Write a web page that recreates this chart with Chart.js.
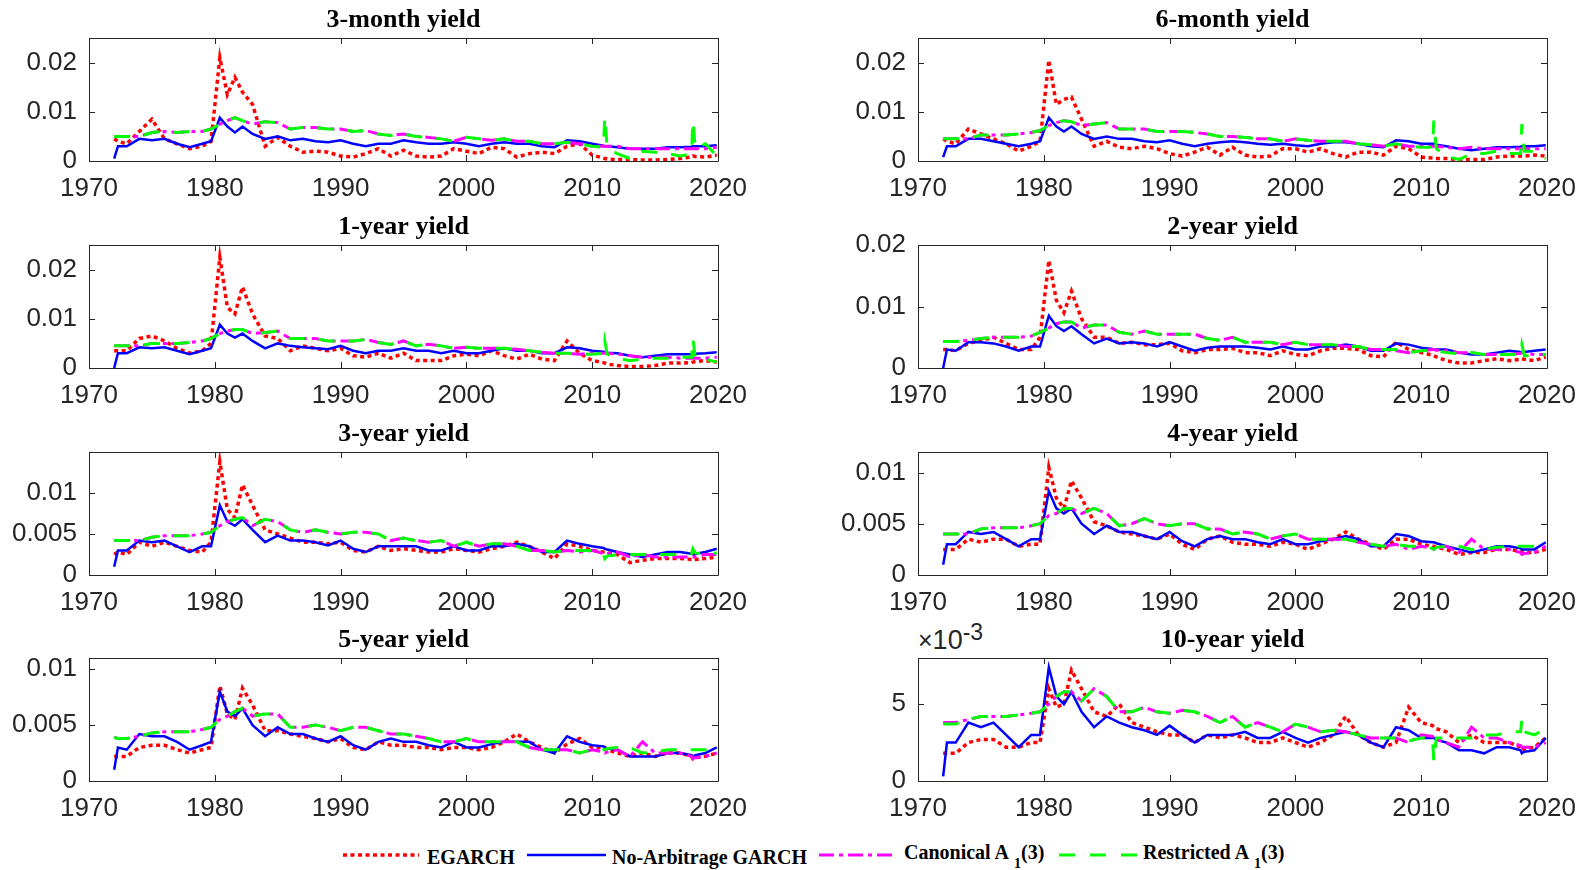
<!DOCTYPE html>
<html>
<head>
<meta charset="utf-8">
<script src="https://cdn.jsdelivr.net/npm/chart.js@4.4.1/dist/chart.umd.min.js"></script>
<style>
  body { margin: 0; background: #fff; }
  #page { position: relative; width: 1585px; height: 870px; overflow: hidden; background: #fff; }
  #page canvas { position: absolute; }
  .sw { position: absolute; top: 850px; height: 10px; }
  .lg { position: absolute; font: bold 20px "Liberation Serif", "Times New Roman", serif; line-height: 20px; color: #000; white-space: nowrap; }
  .lg .sb { font-size: 14px; position: relative; top: 9px; margin-left: 5px; }
  #exp { position: absolute; left: 918px; top: 627px; font: 27px "Liberation Sans", Arial, sans-serif; line-height: 26px; color: #262626; }
  #exp .x { font-size: 25px; }
  #exp .sp { font-size: 23px; position: relative; top: -9px; }
</style>
</head>
<body>
<div id="page">
  <svg class="sw" style="left:343px" width="76" height="10"><line x1="0" y1="5" x2="76" y2="5" stroke="#ff0000" stroke-width="3.5" stroke-dasharray="4 3.5"/></svg>
  <div class="lg" style="left:427px; top:847px">EGARCH</div>
  <svg class="sw" style="left:527px" width="79" height="10"><line x1="0" y1="5" x2="79" y2="5" stroke="#0000ff" stroke-width="2.5"/></svg>
  <div class="lg" style="left:612px; top:847px">No-Arbitrage GARCH</div>
  <svg class="sw" style="left:819px" width="78" height="10"><line x1="0" y1="5" x2="78" y2="5" stroke="#ff00ff" stroke-width="3" stroke-dasharray="15 5 4 5"/></svg>
  <div class="lg" style="left:904px; top:842px">Canonical A<span class="sb">1</span>(3)</div>
  <svg class="sw" style="left:1059px" width="78" height="10"><line x1="0" y1="5" x2="78" y2="5" stroke="#00ff00" stroke-width="3" stroke-dasharray="16 15"/></svg>
  <div class="lg" style="left:1143px; top:842px">Restricted A<span class="sb">1</span>(3)</div>
  <div id="exp"><span class="x">×</span>10<span class="sp">-3</span></div>
</div>
<script>
// x positions (decimal years) shared by every series
const YEARS = [1972, 1972.3, 1973, 1974, 1975, 1976, 1977, 1978, 1979, 1979.7,
  1980.4, 1981, 1981.6, 1982.2, 1983, 1984, 1985, 1986, 1987, 1988,
  1989, 1990, 1991, 1992, 1993, 1994, 1995, 1996, 1997, 1998,
  1999, 2000, 2001, 2002, 2003, 2004, 2005, 2006, 2007, 2008,
  2009, 2010, 2010.9, 2011, 2011.2, 2012, 2013, 2014, 2015, 2016,
  2017, 2017.9, 2018, 2018.2, 2019, 2019.9];

// all series values are in units of 1e-4
const SCALE = 1e-4;

const EGARCH_3M = [45, 40, 35, 60, 85, 45, 35, 25, 30, 40, 210, 135, 170, 140, 115, 30, 48, 30, 18, 20, 18, 10, 8, 15, 25, 10, 22, 10, 8, 10, 25, 20, 15, 28, 25, 8, 15, 18, 15, 30, 35,
  12, 6, 5, 4, 3, 3, 2, 2, 3, 5, 8, 10, 9, 8, 12];
const NAGARCH_3M = [5, 30, 30, 45, 42, 45, 35, 28, 35, 40, 88, 70, 58, 70, 55, 45, 50, 42, 45, 40, 38, 42, 35, 30, 35, 35, 42, 38, 35, 35, 38, 35, 30, 35, 38, 35, 35, 30, 28, 42, 40,
  35, 31, 30, 30, 28, 25, 25, 25, 28, 28, 29, 30, 30, 30, 32];
const CANON_3M = [50, 50, 50, 50, 58, 60, 58, 60, 60, 65, 75, 82, 88, 82, 75, 80, 78, 65, 68, 68, 65, 65, 60, 62, 55, 52, 55, 50, 48, 45, 40, 48, 45, 42, 45, 40, 40, 35, 35, 38, 35,
  30, 30, 30, 30, 30, 25, 25, 25, 25, 25, 25, 25, 25, 25, 28];
const RESTR_3M = [50, 50, 50, 50, 58, 60, 58, 60, 60, 65, 75, 82, 88, 82, 75, 80, 78, 65, 68, 68, 65, 65, 60, 62, 55, 52, 55, 50, 48, 45, 40, 48, 45, 42, 45, 40, 40, 35, 35, 38, 35,
  30, 28, 90, 25, 15, 5, 20, 18, 15, 10, 15, 82, 25, 35, 10];

const EGARCH_6M = [45, 40, 35, 65, 55, 45, 35, 20, 30, 40, 205, 115, 125, 130, 85, 30, 40, 28, 25, 30, 25, 15, 10, 18, 28, 12, 28, 12, 8, 10, 25, 25, 18, 25, 15, 8, 18, 18, 12, 30, 25,
  8, 6, 5, 5, 5, 3, 3, 3, 8, 10, 10, 10, 10, 12, 10];
const NAGARCH_6M = [8, 30, 30, 45, 45, 40, 35, 30, 35, 40, 88, 70, 60, 70, 55, 45, 50, 45, 45, 40, 38, 42, 35, 30, 35, 38, 40, 38, 35, 33, 35, 32, 30, 35, 38, 38, 35, 30, 28, 42, 40,
  35, 35, 35, 33, 30, 25, 22, 25, 28, 28, 29, 30, 30, 30, 32];
const CANON_6M = [45, 45, 45, 45, 53, 53, 53, 55, 58, 62, 72, 78, 82, 80, 72, 75, 78, 65, 65, 65, 60, 60, 60, 58, 55, 50, 50, 48, 45, 45, 40, 45, 42, 40, 40, 40, 35, 33, 30, 35, 30,
  30, 30, 30, 30, 28, 25, 28, 25, 25, 25, 25, 25, 25, 25, 25];
const RESTR_6M = [45, 45, 45, 45, 53, 53, 53, 55, 58, 62, 72, 78, 82, 80, 72, 75, 78, 65, 65, 65, 60, 60, 60, 58, 55, 50, 50, 48, 45, 45, 40, 45, 42, 40, 40, 40, 35, 33, 30, 35, 30,
  28, 28, 82, 25, 10, 3, 15, 15, 20, 15, 15, 75, 20, 20, 5];

const EGARCH_1Y = [35, 35, 35, 60, 65, 55, 40, 30, 35, 50, 225, 123, 110, 165, 110, 65, 60, 35, 45, 40, 35, 40, 25, 22, 30, 20, 30, 15, 15, 15, 25, 28, 25, 35, 25, 18, 28, 18, 15, 55, 30,
  15, 11, 10, 8, 5, 3, 3, 5, 10, 10, 11, 12, 13, 15, 12];
const NAGARCH_1Y = [0, 30, 30, 42, 40, 42, 35, 28, 35, 40, 88, 70, 62, 70, 55, 40, 50, 45, 42, 40, 38, 45, 35, 30, 35, 35, 40, 35, 35, 30, 35, 30, 30, 35, 40, 35, 35, 30, 30, 42, 40,
  35, 33, 32, 31, 30, 25, 22, 25, 28, 28, 28, 28, 29, 30, 32];
const CANON_1Y = [45, 45, 45, 45, 50, 50, 50, 52, 55, 60, 70, 75, 78, 78, 70, 72, 75, 60, 60, 60, 55, 55, 55, 58, 52, 48, 55, 45, 48, 45, 40, 42, 40, 40, 40, 38, 35, 32, 30, 30, 28,
  30, 30, 30, 30, 28, 25, 22, 22, 22, 20, 20, 20, 20, 20, 22];
const RESTR_1Y = [45, 45, 45, 45, 50, 50, 50, 52, 55, 60, 70, 75, 78, 78, 70, 72, 75, 60, 60, 60, 55, 55, 55, 58, 52, 48, 55, 45, 48, 45, 40, 42, 40, 40, 40, 38, 35, 32, 30, 30, 28,
  28, 30, 55, 28, 20, 15, 18, 20, 20, 22, 22, 60, 20, 18, 12];

const EGARCH_2Y = [30, 30, 28, 40, 45, 50, 40, 30, 30, 50, 175, 110, 90, 125, 80, 50, 50, 40, 42, 38, 38, 40, 28, 25, 30, 30, 32, 25, 25, 20, 28, 22, 20, 28, 32, 32, 30, 20, 18, 42, 30,
  25, 21, 20, 18, 12, 8, 8, 12, 15, 12, 14, 15, 14, 12, 18];
const NAGARCH_2Y = [0, 30, 28, 42, 42, 40, 35, 28, 35, 35, 85, 68, 60, 68, 55, 40, 48, 40, 42, 40, 35, 42, 35, 28, 33, 35, 35, 35, 33, 30, 35, 30, 30, 35, 35, 38, 35, 28, 28, 40, 38,
  33, 31, 30, 30, 30, 25, 22, 22, 25, 28, 26, 25, 26, 28, 30];
const CANON_2Y = [43, 43, 43, 45, 48, 50, 50, 50, 52, 58, 65, 72, 75, 75, 65, 70, 70, 58, 55, 60, 55, 55, 55, 55, 48, 45, 50, 42, 42, 42, 38, 42, 38, 38, 38, 35, 35, 30, 30, 28, 25,
  28, 30, 30, 29, 28, 25, 25, 22, 22, 22, 24, 25, 24, 22, 22];
const RESTR_2Y = [43, 43, 43, 45, 48, 50, 50, 50, 52, 58, 65, 72, 75, 75, 65, 70, 70, 58, 55, 60, 55, 55, 55, 55, 48, 45, 50, 42, 42, 42, 38, 42, 38, 38, 38, 35, 35, 30, 30, 30, 25,
  28, 30, 30, 28, 25, 23, 25, 22, 22, 22, 22, 38, 20, 20, 22];

const EGARCH_3Y = [25, 28, 25, 40, 35, 40, 35, 30, 28, 40, 138, 80, 70, 110, 85, 55, 50, 45, 40, 40, 38, 40, 30, 28, 35, 30, 32, 30, 28, 28, 32, 30, 28, 32, 35, 40, 35, 28, 20, 38, 35,
  30, 28, 28, 27, 25, 15, 18, 20, 20, 20, 19, 18, 19, 20, 22];
const NAGARCH_3Y = [10, 30, 30, 42, 40, 42, 35, 28, 35, 35, 85, 65, 60, 68, 55, 40, 48, 42, 42, 40, 36, 42, 32, 28, 35, 35, 35, 35, 30, 30, 35, 30, 30, 35, 35, 38, 35, 28, 28, 42, 38,
  35, 33, 32, 31, 28, 25, 22, 25, 28, 28, 26, 25, 26, 28, 32];
const CANON_3Y = [42, 42, 42, 42, 46, 48, 48, 48, 50, 52, 60, 65, 68, 70, 60, 68, 65, 55, 52, 55, 52, 50, 52, 52, 50, 42, 45, 42, 40, 42, 35, 40, 35, 38, 38, 35, 30, 30, 28, 30, 28,
  30, 26, 25, 26, 28, 22, 25, 22, 22, 22, 22, 22, 23, 25, 25];
const RESTR_3Y = [42, 42, 42, 42, 46, 48, 48, 48, 50, 52, 60, 65, 68, 70, 60, 68, 65, 55, 52, 55, 52, 50, 52, 52, 50, 42, 45, 42, 40, 42, 35, 40, 35, 38, 38, 35, 30, 30, 28, 30, 30,
  30, 25, 20, 23, 25, 25, 25, 25, 25, 25, 26, 32, 27, 25, 27];

const EGARCH_4Y = [25, 25, 25, 35, 32, 35, 35, 28, 30, 30, 105, 75, 65, 92, 75, 52, 48, 42, 40, 38, 35, 40, 30, 25, 35, 38, 32, 30, 30, 28, 32, 30, 25, 30, 35, 42, 35, 30, 25, 35, 35,
  30, 28, 28, 27, 25, 20, 22, 22, 25, 25, 23, 22, 22, 22, 25];
const NAGARCH_4Y = [10, 30, 30, 42, 40, 42, 35, 28, 35, 35, 82, 65, 60, 65, 50, 40, 48, 42, 42, 38, 35, 42, 33, 28, 35, 38, 35, 35, 32, 30, 35, 30, 30, 33, 35, 38, 35, 28, 28, 40, 38,
  33, 32, 32, 31, 28, 25, 22, 25, 28, 28, 26, 25, 25, 25, 32];
const CANON_4Y = [40, 40, 40, 40, 45, 46, 46, 46, 48, 50, 58, 60, 65, 65, 60, 65, 60, 48, 50, 55, 50, 48, 50, 50, 45, 45, 40, 42, 40, 35, 38, 40, 35, 35, 35, 35, 32, 30, 28, 30, 25,
  28, 26, 25, 26, 28, 22, 35, 25, 25, 25, 22, 20, 21, 22, 28];
const RESTR_4Y = [40, 40, 40, 40, 45, 46, 46, 46, 48, 50, 58, 60, 65, 65, 60, 65, 60, 48, 50, 55, 50, 48, 50, 50, 45, 45, 40, 42, 40, 35, 38, 40, 35, 35, 35, 35, 32, 30, 28, 30, 28,
  28, 26, 25, 27, 28, 28, 25, 25, 27, 28, 28, 28, 28, 28, 30];

const EGARCH_5Y = [22, 22, 22, 30, 32, 32, 28, 25, 28, 30, 85, 60, 55, 83, 68, 45, 45, 42, 40, 38, 35, 38, 30, 28, 35, 32, 32, 30, 30, 28, 30, 30, 28, 30, 35, 42, 35, 30, 25, 33, 38,
  30, 30, 30, 28, 25, 22, 25, 22, 25, 25, 22, 20, 21, 22, 25];
const NAGARCH_5Y = [10, 30, 28, 42, 40, 40, 35, 28, 32, 35, 80, 62, 58, 65, 50, 40, 48, 42, 42, 38, 35, 40, 32, 28, 35, 38, 35, 35, 32, 30, 35, 30, 30, 33, 35, 35, 35, 28, 25, 40, 35,
  32, 31, 30, 29, 28, 22, 22, 22, 25, 25, 23, 22, 23, 25, 30];
const CANON_5Y = [39, 38, 38, 40, 43, 44, 44, 44, 46, 48, 55, 58, 62, 65, 58, 60, 60, 48, 48, 50, 48, 45, 48, 48, 45, 42, 42, 40, 38, 35, 35, 38, 35, 35, 35, 35, 30, 28, 28, 28, 25,
  28, 26, 25, 26, 28, 22, 35, 25, 25, 25, 22, 20, 21, 22, 25];
const RESTR_5Y = [39, 38, 38, 40, 43, 44, 44, 44, 46, 48, 55, 58, 62, 65, 58, 60, 60, 48, 48, 50, 48, 45, 48, 48, 45, 42, 42, 40, 38, 35, 35, 38, 35, 35, 35, 35, 30, 28, 28, 28, 25,
  28, 28, 28, 29, 30, 30, 25, 26, 28, 28, 28, 28, 28, 28, 30];

const EGARCH_10Y = [18, 18, 18, 25, 27, 27, 22, 22, 25, 25, 60, 48, 50, 72, 60, 45, 42, 50, 38, 35, 32, 30, 30, 25, 30, 28, 30, 28, 25, 25, 28, 25, 22, 25, 30, 42, 30, 25, 22, 25, 48,
  38, 36, 35, 34, 32, 25, 30, 25, 25, 25, 22, 20, 21, 22, 28];
const NAGARCH_10Y = [3, 25, 25, 38, 35, 38, 30, 22, 30, 30, 74, 55, 50, 58, 45, 35, 42, 38, 35, 33, 30, 36, 30, 25, 30, 30, 30, 32, 28, 28, 32, 28, 25, 28, 30, 32, 30, 25, 22, 35, 33,
  28, 28, 28, 27, 25, 20, 20, 18, 22, 22, 20, 18, 19, 20, 28];
const CANON_10Y = [38, 38, 38, 40, 42, 42, 42, 43, 44, 45, 50, 55, 58, 58, 52, 60, 55, 45, 45, 48, 45, 44, 46, 45, 42, 38, 42, 35, 38, 35, 32, 37, 35, 32, 33, 32, 30, 28, 28, 28, 25,
  30, 29, 28, 27, 25, 22, 35, 28, 28, 25, 23, 22, 22, 22, 25];
const RESTR_10Y = [37, 37, 37, 40, 42, 42, 42, 43, 44, 45, 50, 55, 58, 58, 52, 60, 55, 45, 45, 48, 45, 44, 46, 45, 42, 38, 42, 35, 38, 35, 32, 37, 35, 32, 33, 32, 30, 28, 28, 28, 26,
  28, 28, 13, 28, 28, 28, 28, 30, 30, 32, 32, 40, 32, 30, 34];

const TITLES = ['3-month yield', '6-month yield', '1-year yield', '2-year yield',
  '3-year yield', '4-year yield', '5-year yield', '10-year yield'];
const Y_MAX = [0.025, 0.025, 0.025, 0.02, 0.015, 0.012, 0.011, 0.008];
const YT_A = [0, 0.01, 0.02];
const YT_B = [0, 0.005, 0.01];
const YT_C = [0, 0.005];
const Y_TICKS = [YT_A, YT_A, YT_A, YT_A, YT_B, YT_B, YT_B, YT_C];
const X_TICK_STEP = 10;

const EGARCH = [EGARCH_3M, EGARCH_6M, EGARCH_1Y, EGARCH_2Y, EGARCH_3Y, EGARCH_4Y, EGARCH_5Y, EGARCH_10Y];
const NAGARCH = [NAGARCH_3M, NAGARCH_6M, NAGARCH_1Y, NAGARCH_2Y, NAGARCH_3Y, NAGARCH_4Y, NAGARCH_5Y, NAGARCH_10Y];
const CANON = [CANON_3M, CANON_6M, CANON_1Y, CANON_2Y, CANON_3Y, CANON_4Y, CANON_5Y, CANON_10Y];
const RESTR = [RESTR_3M, RESTR_6M, RESTR_1Y, RESTR_2Y, RESTR_3Y, RESTR_4Y, RESTR_5Y, RESTR_10Y];

// layout of the 2 x 4 grid (px)
const COL_LEFT = [89, 918];
const ROW_TOP = [38, 245, 452, 658];
const PLOT_W = 629, PLOT_H = 123;
const Y_AXIS_W = 89, TITLE_H = 37, X_AXIS_H = 45, PAD_R = 34;

Chart.defaults.font.family = '"Liberation Sans", Arial, Helvetica, sans-serif';
Chart.defaults.font.size = 26;
Chart.defaults.color = '#262626';

const pts = vals => YEARS.map((x, k) => ({ x: x, y: vals[k] * SCALE }));

// box around the axes with inward tick marks on all four sides
const boxPlugin = {
  id: 'box',
  afterDatasetsDraw(chart) {
    const { ctx, chartArea: a, scales: { x, y } } = chart;
    const t = 6;
    ctx.save();
    ctx.strokeStyle = '#262626';
    ctx.lineWidth = 1;
    ctx.beginPath();
    ctx.rect(a.left + 0.5, a.top + 0.5, a.width, a.height);
    x.ticks.forEach(tk => {
      const px = Math.round(x.getPixelForValue(tk.value)) + 0.5;
      ctx.moveTo(px, a.bottom); ctx.lineTo(px, a.bottom - t);
      ctx.moveTo(px, a.top); ctx.lineTo(px, a.top + t);
    });
    y.ticks.forEach(tk => {
      const py = Math.round(y.getPixelForValue(tk.value)) + 0.5;
      ctx.moveTo(a.left, py); ctx.lineTo(a.left + t, py);
      ctx.moveTo(a.right, py); ctx.lineTo(a.right - t, py);
    });
    ctx.stroke();
    ctx.restore();
  }
};

const page = document.getElementById('page');

TITLES.forEach((title, i) => {
  const col = i % 2, row = Math.floor(i / 2);
  const cv = document.createElement('canvas');
  const w = Y_AXIS_W + PLOT_W + PAD_R, h = TITLE_H + PLOT_H + X_AXIS_H;
  cv.width = w; cv.height = h;
  cv.style.left = (COL_LEFT[col] - Y_AXIS_W) + 'px';
  cv.style.top = (ROW_TOP[row] - TITLE_H) + 'px';
  cv.style.width = w + 'px'; cv.style.height = h + 'px';
  page.appendChild(cv);

  const milli = i === 7;
  new Chart(cv, {
    type: 'line',
    data: {
      datasets: [
        { label: 'EGARCH', data: pts(EGARCH[i]), borderColor: '#ff0000', borderWidth: 3.5, borderDash: [4, 3.5], order: 4 },
        { label: 'No-Arbitrage GARCH', data: pts(NAGARCH[i]), borderColor: '#0000ff', borderWidth: 2.5, order: 3 },
        { label: 'Canonical A1(3)', data: pts(CANON[i]), borderColor: '#ff00ff', borderWidth: 3, borderDash: [15, 5, 4, 5], order: 2 },
        { label: 'Restricted A1(3)', data: pts(RESTR[i]), borderColor: '#00ff00', borderWidth: 3, borderDash: [16, 14], order: 1 }
      ]
    },
    options: {
      responsive: false,
      animation: false,
      devicePixelRatio: 1,
      layout: { padding: { left: 0, top: 0, right: PAD_R, bottom: 0 } },
      elements: { point: { radius: 0 }, line: { tension: 0, borderCapStyle: 'butt' } },
      plugins: {
        legend: { display: false },
        tooltip: { enabled: false },
        title: {
          display: true, text: title, fullSize: false, color: '#000',
          font: { family: '"Liberation Serif", "Times New Roman", serif', size: 26, weight: 'bold', lineHeight: 1 },
          padding: { top: 6, bottom: 5 }
        }
      },
      scales: {
        x: {
          type: 'linear', min: 1970, max: 2020,
          grid: { display: false, drawTicks: false },
          border: { display: false },
          ticks: { stepSize: X_TICK_STEP, autoSkip: false, maxRotation: 0, padding: 12, callback: v => String(v) },
          afterFit: s => { s.height = X_AXIS_H; s.paddingLeft = 0; s.paddingRight = 0; }
        },
        y: {
          min: 0, max: Y_MAX[i],
          grid: { display: false, drawTicks: false },
          border: { display: false },
          ticks: { padding: 12, callback: v => milli ? String(Math.round(v * 1000)) : String(+v.toFixed(4)) },
          afterBuildTicks: s => { s.ticks = Y_TICKS[i].map(v => ({ value: v })); },
          afterFit: s => { s.width = Y_AXIS_W; }
        }
      }
    },
    plugins: [boxPlugin]
  });
});
</script>
</body>
</html>
